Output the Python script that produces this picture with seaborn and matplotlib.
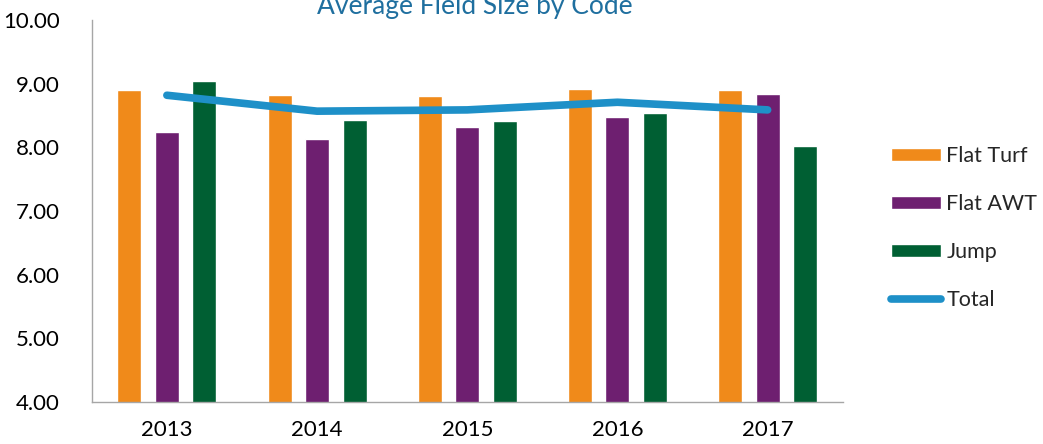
import pandas as pd
import numpy as np
import matplotlib
matplotlib.use('Agg')
import matplotlib.pyplot as plt
import seaborn as sns
from matplotlib.patches import Patch
from matplotlib.lines import Line2D

# 데이터
years = ['2013', '2014', '2015', '2016', '2017']
flat_turf = [8.90, 8.82, 8.81, 8.92, 8.90]
flat_awt = [8.24, 8.13, 8.32, 8.48, 8.84]
jump = [9.04, 8.43, 8.41, 8.54, 8.02]
total = [8.82, 8.57, 8.59, 8.71, 8.59]

series_names = ['Flat Turf', 'Flat AWT', 'Jump']
colors = ['#F08A1A', '#6E1F70', '#005F33']
line_color = '#1E90C8'

sns.set_style('white')
plt.rcParams['font.family'] = ['Lato', 'DejaVu Sans']

df = pd.DataFrame({
    'year': years * 3,
    'code': [n for n in series_names for _ in years],
    'value': flat_turf + flat_awt + jump,
})

fig = plt.figure(figsize=(10.43, 4.44), dpi=100)
ax = fig.add_axes([0.088, 0.0946, 0.72, 0.86])

sns.barplot(data=df, x='year', y='value', hue='code', palette=colors,
            width=0.75, gap=0.36, ax=ax, legend=False, saturation=1)
# 합계 선
ax.plot(range(len(years)), total, color=line_color, lw=5.5,
        solid_capstyle='round', zorder=5)

ax.set_ylim(4, 10)
ax.set_yticks(np.arange(4, 10.01, 1))
ax.set_yticklabels([f'{v:.2f}' for v in np.arange(4, 10.01, 1)])
ax.set_xlim(-0.5, 4.5)
ax.set_xlabel('')
ax.set_ylabel('')
ax.tick_params(axis='both', length=0, labelsize=16, colors='black')
ax.tick_params(axis='y', pad=23)
ax.tick_params(axis='x', pad=13)

for s in ['top', 'right']:
    ax.spines[s].set_visible(False)
for s in ['left', 'bottom']:
    ax.spines[s].set_color('#A6A6A6')
    ax.spines[s].set_linewidth(1)

fig.text(0.455, 0.985, 'Average Field Size by Code', ha='center', va='center',
         fontsize=19, color='#1F6F9F')

handles = [Patch(facecolor=c, label=n) for c, n in zip(colors, series_names)]
handles.append(Line2D([0], [0], color=line_color, lw=5.5,
                      solid_capstyle='round', label='Total'))
fig.legend(handles=handles, loc='center left', bbox_to_anchor=(0.836, 0.486),
           frameon=False, fontsize=15.5, handlelength=2.3, handleheight=0.6,
           labelspacing=1.3, handletextpad=0.25)

fig.savefig('out.png', dpi=100)
